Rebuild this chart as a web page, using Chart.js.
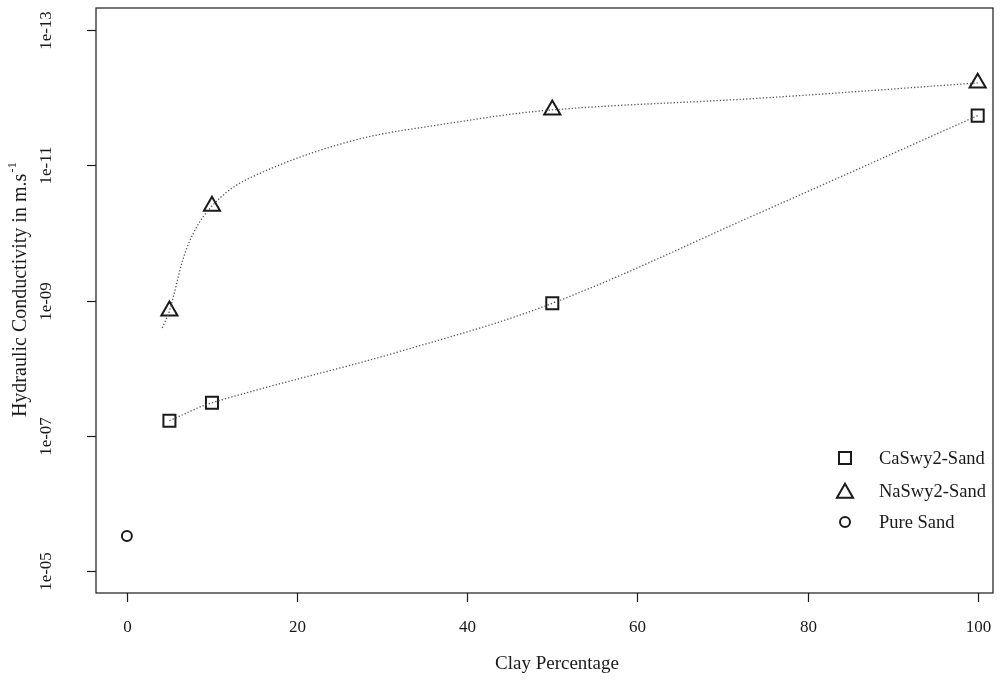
<!DOCTYPE html>
<html><head><meta charset="utf-8">
<script src="https://cdn.jsdelivr.net/npm/chart.js@4.4.1/dist/chart.umd.min.js"></script>
<style>html,body{margin:0;padding:0;background:#fff}#wrap{width:1003px;height:682px;position:relative}</style>
</head><body><div id="wrap"><canvas id="c"></canvas></div>
<script>
// ---- data ----
const xTicks = [0, 20, 40, 60, 80, 100];
const yTicks = [1e-13, 1e-11, 1e-9, 1e-7, 1e-5];
const yTickLabels = ['1e-13', '1e-11', '1e-09', '1e-07', '1e-05'];

const caX = [5, 10, 50, 100];
const caY = [5.97e-8, 3.24e-8, 1.10e-9, 1.86e-12];
const naX = [5, 10, 50, 100];
const naY = [1.42e-9, 4.02e-11, 1.53e-12, 6.12e-13];
const sandX = [0];
const sandY = [3.01e-6];

// dotted trend curves
const caTrendX = [5, 10, 32, 50, 74.3, 100];
const caTrendY = [5.97e-8, 3.24e-8, 5.70e-9, 1.10e-9, 5.11e-11, 1.86e-12];
const naTrendX = [4.16, 5, 7.2, 10, 14.35, 26.1, 37.85, 50, 74.3, 100];
const naTrendY = [2.55e-9, 1.42e-9, 1.5e-10, 4.02e-11, 1.57e-11, 4.51e-12, 2.42e-12, 1.53e-12, 1.03e-12, 6.12e-13];

const legendLabels = ['CaSwy2-Sand', 'NaSwy2-Sand', 'Pure Sand'];
const xTitle = 'Clay Percentage';
const yTitle = 'Hydraulic Conductivity in m.s';
const yTitleSup = '-1';

const pts = (xs, ys) => xs.map((x, i) => ({x: x, y: ys[i]}));

const FONT = '"Liberation Serif", "Times New Roman", serif';
const INK = '#1a1a1a';

const axesPlugin = {
  id: 'rAxes',
  afterDraw(chart) {
    const ctx = chart.ctx;
    const a = chart.chartArea;
    const xs = chart.scales.x, ys = chart.scales.y;
    ctx.save();
    // box
    ctx.strokeStyle = INK;
    ctx.lineWidth = 1.2;
    ctx.strokeRect(a.left, a.top, a.right - a.left, a.bottom - a.top);
    // x ticks
    ctx.fillStyle = INK;
    ctx.font = '17px ' + FONT;
    ctx.textAlign = 'center';
    ctx.textBaseline = 'middle';
    xTicks.forEach(v => {
      const px = Math.round(xs.getPixelForValue(v)) + 0.5;
      ctx.beginPath(); ctx.moveTo(px, a.bottom); ctx.lineTo(px, a.bottom + 9); ctx.stroke();
      ctx.fillText(String(v), px, 628);
    });
    // y ticks
    yTicks.forEach((v, i) => {
      const py = Math.round(ys.getPixelForValue(v)) + 0.5;
      ctx.beginPath(); ctx.moveTo(a.left, py); ctx.lineTo(a.left - 9, py); ctx.stroke();
      ctx.save();
      ctx.translate(47, py);
      ctx.rotate(-Math.PI / 2);
      ctx.fillText(yTickLabels[i], 0, 0);
      ctx.restore();
    });
    // x title
    ctx.font = '19px ' + FONT;
    ctx.fillText(xTitle, 557, 664);
    // y title with superscript
    ctx.save();
    ctx.translate(21, 290);
    ctx.rotate(-Math.PI / 2);
    ctx.font = '20px ' + FONT;
    const w1 = ctx.measureText(yTitle).width;
    ctx.font = '13px ' + FONT;
    const w2 = ctx.measureText(yTitleSup).width;
    const start = -(w1 + w2) / 2;
    ctx.textAlign = 'left';
    ctx.font = '20px ' + FONT;
    ctx.fillText(yTitle, start, 0);
    ctx.font = '13px ' + FONT;
    ctx.fillText(yTitleSup, start + w1 + 1, -8);
    ctx.restore();
    // legend
    const lx = 845, ly = [458, 491, 522];
    const styles = [['rect', 8.5], ['triangle', 9.3], ['circle', 5]];
    ctx.lineWidth = 2;
    ctx.strokeStyle = INK;
    ctx.fillStyle = 'rgba(0,0,0,0)';
    styles.forEach((s, i) => {
      Chart.helpers.drawPoint(ctx, {pointStyle: s[0], radius: s[1], borderWidth: 2, rotation: 0}, lx, ly[i] + (s[0] === 'triangle' ? 2 : 0));
    });
    ctx.fillStyle = INK;
    ctx.textAlign = 'left';
    ctx.font = '18.5px ' + FONT;
    legendLabels.forEach((t, i) => ctx.fillText(t, 879, ly[i] + 1));
    ctx.restore();
  }
};

const trendStyle = {
  showLine: true, pointRadius: 0, borderColor: '#555', borderWidth: 1.3,
  borderDash: [1.3, 2], tension: 0.35, fill: false
};
const markStyle = {showLine: false, borderColor: INK, backgroundColor: 'rgba(0,0,0,0)', pointBorderWidth: 2};

new Chart(document.getElementById('c'), {
  type: 'scatter',
  data: {
    datasets: [
      Object.assign({label: 'Ca trend', data: pts(caTrendX, caTrendY)}, trendStyle),
      Object.assign({label: 'Na trend', data: pts(naTrendX, naTrendY)}, trendStyle),
      Object.assign({label: legendLabels[0], data: pts(caX, caY), pointStyle: 'rect', pointRadius: 8.5}, markStyle),
      Object.assign({label: legendLabels[1], data: pts(naX, naY), pointStyle: 'triangle', pointRadius: 9.3}, markStyle),
      Object.assign({label: legendLabels[2], data: pts(sandX, sandY), pointStyle: 'circle', pointRadius: 5}, markStyle)
    ]
  },
  options: {
    responsive: true, maintainAspectRatio: false, animation: false,
    layout: {autoPadding: false, padding: {left: 96, right: 10, top: 8, bottom: 89}},
    plugins: {legend: {display: false}, tooltip: {enabled: false}},
    scales: {
      x: {type: 'linear', min: -3.63, max: 101.8, display: false},
      y: {type: 'logarithmic', reverse: true, min: Math.pow(10, -13.32), max: Math.pow(10, -4.68), display: false}
    }
  },
  plugins: [axesPlugin]
});
</script></body></html>
